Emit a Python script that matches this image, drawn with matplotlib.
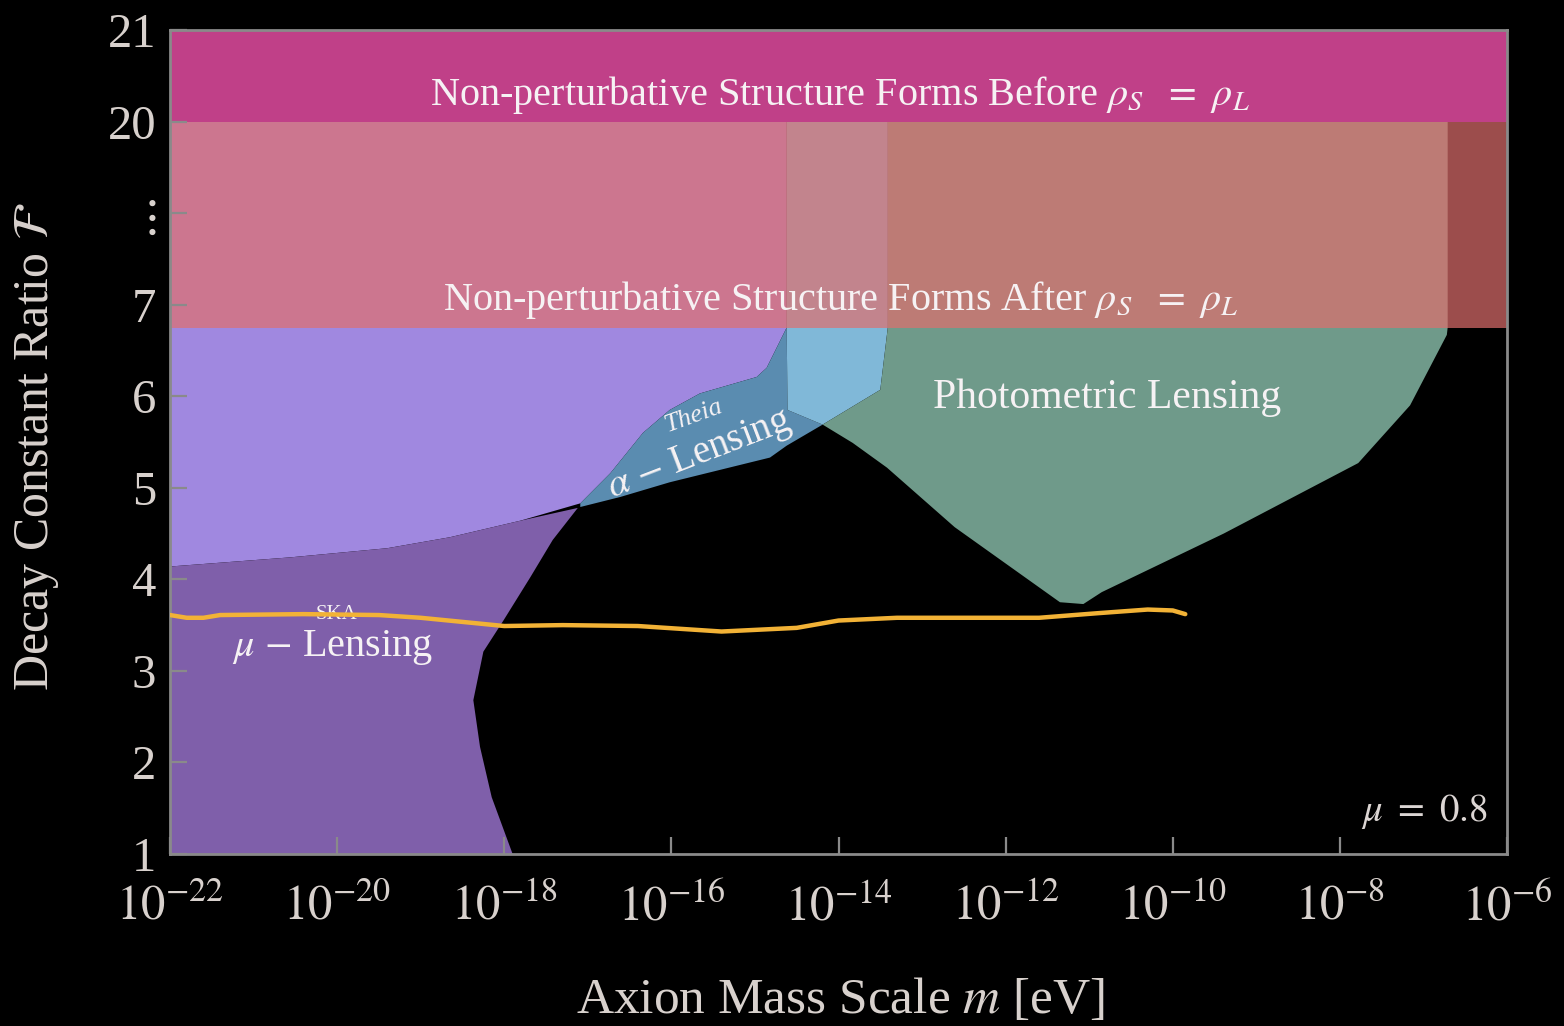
import matplotlib
matplotlib.use("Agg")
import matplotlib.pyplot as plt
import numpy as np

plt.rcParams["font.family"] = "serif"
plt.rcParams["font.serif"] = ["Liberation Serif", "DejaVu Serif"]
plt.rcParams["mathtext.fontset"] = "stix"

# boundaries: log10(m / eV) and decay constant ratio F
wide_logm = [-22.0, -22.0, -14.62, -14.62, -14.86, -14.98, -15.66, -16.02,
             -16.34, -16.73, -17.09, -17.81, -18.65, -19.40, -20.56]
wide_F = [4.14, 20, 20, 6.75, 6.31, 6.21, 6.03, 5.85,
          5.60, 5.16, 4.83, 4.64, 4.46, 4.34, 4.24]

mu_logm = [-22.0, -22.0, -20.56, -19.40, -18.65, -17.81, -17.12, -17.42,
           -17.69, -18.01, -18.25, -18.37, -18.29, -18.15, -17.90]
mu_F = [1.0, 4.14, 4.24, 4.34, 4.46, 4.64, 4.78, 4.43,
        4.02, 3.55, 3.21, 2.68, 2.17, 1.62, 1.0]

theia_logm = [-17.09, -16.73, -16.34, -16.02, -15.66, -14.98, -14.86, -14.62,
              -14.61, -14.19, -14.62, -14.82, -16.02, -16.61, -17.09]
theia_F = [4.83, 5.16, 5.60, 5.85, 6.03, 6.21, 6.31, 6.75,
           5.85, 5.69, 5.46, 5.33, 5.06, 4.90, 4.79]

overlap_logm = [-14.62, -14.62, -14.61, -14.19, -13.50, -13.41, -13.41]
overlap_F = [20, 6.75, 5.85, 5.69, 6.07, 6.75, 20]

photo_logm = [-13.41, -13.41, -13.50, -14.19, -13.83, -13.42, -12.61, -11.35,
              -11.07, -10.85, -9.39, -7.78, -7.16, -6.72, -6.71, -6.71]
photo_F = [20, 6.75, 6.07, 5.69, 5.49, 5.22, 4.57, 3.75,
           3.73, 3.86, 4.50, 5.27, 5.90, 6.67, 6.75, 20]

ska_logm = [-22.0, -21.8, -21.6, -21.4, -20.4, -19.5, -19.0, -18.0, -17.3, -16.4,
            -15.4, -14.5, -14.0, -13.3, -12.5, -11.6, -10.9, -10.3, -10.0, -9.85]
ska_F = [3.61, 3.58, 3.58, 3.61, 3.62, 3.61, 3.58, 3.49, 3.50, 3.49,
         3.43, 3.47, 3.55, 3.58, 3.58, 3.58, 3.63, 3.67, 3.66, 3.62]

after_band = (6.75, 20)
before_band = (20, 21)

ytick_F = [1, 2, 3, 4, 5, 6, 7, 8, 20, 21]
ytick_labels = ["1", "2", "3", "4", "5", "6", "7", r"$\vdots$", "20", "21"]
xtick_exp = [-22, -20, -18, -16, -14, -12, -10, -8, -6]


def fpos(F):
    # broken axis: 1..7 linear, then one slot for the gap, 20 and 21
    return np.interp(F, [0, 7, 8, 20, 21], [0, 7, 8, 9, 10])


def region(ax, logm, F, color, **kw):
    ax.fill(10.0 ** np.array(logm), fpos(F), color=color, lw=0, **kw)


fig = plt.figure(figsize=(15.64, 10.26), dpi=100, facecolor="black")
ax = fig.add_axes([170 / 1564, 1 - 854 / 1026, 1337 / 1564, 824 / 1026])
ax.set_facecolor("black")
ax.set_xscale("log")
ax.set_xlim(1e-22, 1e-6)
ax.set_ylim(1, 10)

region(ax, wide_logm, wide_F, "#A088E0")
region(ax, mu_logm, mu_F, "#7F5FAA")
region(ax, theia_logm, theia_F, "#5A8CB0")
region(ax, overlap_logm, overlap_F, "#80B8D8")
region(ax, photo_logm, photo_F, "#6F9A8A")

ax.axhspan(fpos(after_band[0]), fpos(after_band[1]), color="#DF6F6D", alpha=0.7, lw=0)
ax.axhspan(fpos(before_band[0]), fpos(before_band[1]), color="#C04088", lw=0)

white = "#F6F2F4"
ax.text(10 ** -13.98, 9.29, r"Non-perturbative Structure Forms Before $\rho_S\ \ =\ \rho_L$",
        color=white, fontsize=29, ha="center", va="center")
ax.text(10 ** -13.98, 7.05, r"Non-perturbative Structure Forms After $\rho_S\ \ =\ \rho_L$",
        color=white, fontsize=29, ha="center", va="center")
ax.text(10 ** -10.79, 5.98, "Photometric Lensing", color=white, fontsize=30,
        ha="center", va="center")
ax.text(10 ** -20.05, 3.26, r"$\mu$ $-$ Lensing", color=white, fontsize=29,
        ha="center", va="center")
ax.text(10 ** -20.01, 3.62, "SKA", color=white, fontsize=15, ha="center", va="center")
ax.text(10 ** -15.74, 5.78, "Theia", color=white, fontsize=19, style="italic",
        ha="center", va="center", rotation=20)
ax.text(10 ** -15.66, 5.36, r"$\alpha$ $-$ Lensing", color=white, fontsize=28,
        ha="center", va="center", rotation=21)
ax.text(10 ** -6.23, 1.46, r"$\mu\ =\ 0.8$", color="#DCD6D4", fontsize=28,
        ha="right", va="center")

# SKA forecast drawn over its own label
ax.plot(10.0 ** np.array(ska_logm), fpos(ska_F), color="#F2B236", lw=3.2,
        solid_capstyle="round", solid_joinstyle="round", zorder=5)

grey = "#8A8A8A"
label_col = "#D8D1CD"
for s in ax.spines.values():
    s.set_color(grey)
    s.set_linewidth(2)

ax.set_xticks([10.0 ** e for e in xtick_exp])
ax.set_xticklabels([r"$10^{%d}$" % e for e in xtick_exp])
ax.xaxis.set_minor_locator(matplotlib.ticker.NullLocator())
ax.set_yticks(fpos(ytick_F))
ax.set_yticklabels(ytick_labels)
ax.tick_params(direction="in", length=12, width=1.6, color=grey,
               labelcolor=label_col, labelsize=35)
ax.tick_params(axis="x", pad=22)
ax.tick_params(axis="y", pad=10)

fig.text(840 / 1564, 1 - 1000 / 1026, r"Axion Mass Scale $m$ [eV]", color=label_col,
         fontsize=37, ha="center", va="center")
fig.text(37 / 1564, 1 - 447 / 1026, r"Decay Constant Ratio $\mathcal{F}$", color=label_col,
         fontsize=36, ha="center", va="center", rotation=90)

fig.savefig("out.png", dpi=100, facecolor="black")
